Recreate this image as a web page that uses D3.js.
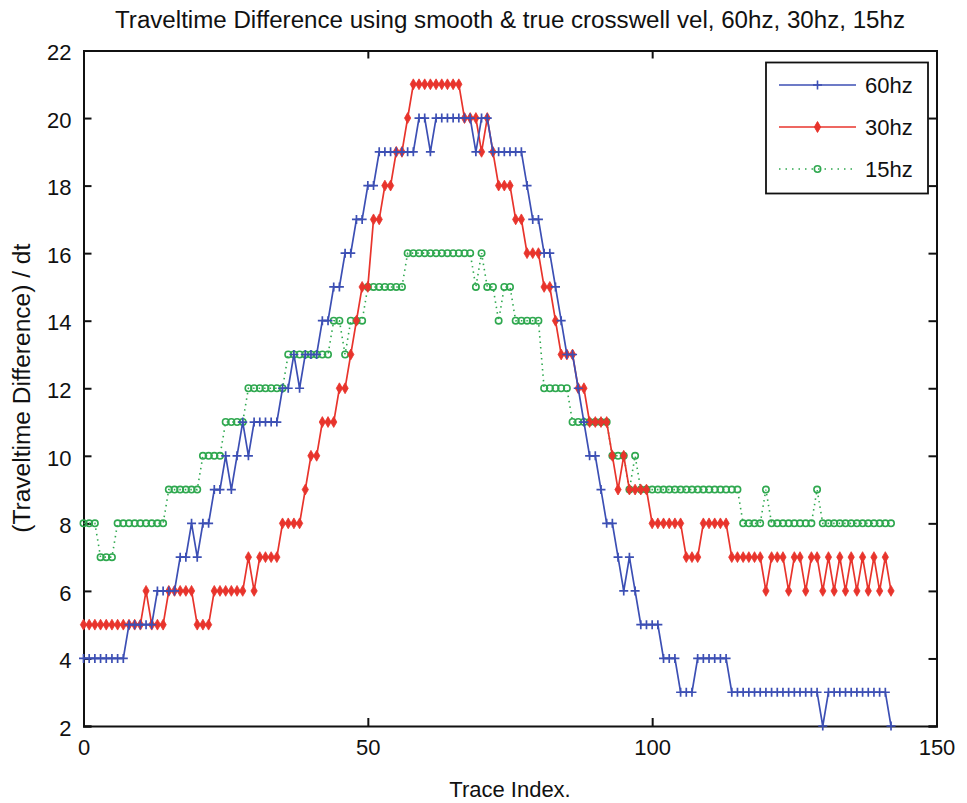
<!DOCTYPE html>
<html><head><meta charset="utf-8">
<script src="https://cdn.jsdelivr.net/npm/d3@7"></script>
<style>body{margin:0;background:#fff}text{font-family:"Liberation Sans",Arial,sans-serif;fill:#111}</style>
</head><body><svg id="c" width="967" height="803"></svg>
<script>
const titleText = "Traveltime Difference using smooth & true crosswell vel, 60hz, 30hz, 15hz";
const xLabel = "Trace Index.";
const yLabel = "(Traveltime Difference) / dt";
const xTicks = [0, 50, 100, 150];
const yTicks = [2, 4, 6, 8, 10, 12, 14, 16, 18, 20, 22];
const seriesNames = ["60hz", "30hz", "15hz"];

const hz60 = [4,4,4,4,4,4,4,4, 5,5,5,5,5, 6,6,6,6, 7,7, 8, 7, 8,8, 9,9, 10, 9, 10, 11, 10,
  11,11,11,11,11, 12,12, 13, 12, 13,13,13, 14,14, 15,15, 16,16, 17,17, 18,18,
  19,19,19,19,19,19,19, 20,20, 19, 20,20,20,20,20,20,20, 19, 20,20,
  19,19,19,19,19,19, 18, 17,17, 16,16, 15, 14, 13,13, 12, 11, 10,10, 9, 8,8, 7, 6, 7, 6,
  5,5,5,5, 4,4,4, 3,3,3, 4,4,4,4,4,4,
  3,3,3,3,3,3,3,3,3,3,3,3,3,3,3,3, 2, 3,3,3,3,3,3,3,3,3,3,3, 2];

const hz30 = [5,5,5,5,5,5,5,5,5,5,5, 6, 5,5,5, 6,6,6,6,6, 5,5,5, 6,6,6,6,6,6, 7, 6,
  7,7,7,7, 8,8,8,8, 9, 10,10, 11,11,11, 12,12, 13, 14, 15,15, 17,17, 18,18, 19,19, 20,
  21,21,21,21,21,21,21,21,21, 20,20,20, 19, 20, 19, 18,18,18, 17,17, 16,16,16, 15,15, 14,
  13,13,13, 12,12, 11,11,11,11, 10, 9, 10, 9,9,9,9, 8,8,8,8,8,8, 7,7,7, 8,8,8,8,8,
  7,7,7,7,7,7, 6,7,7,7,6,7,7,6,7,7,6,7,6,7,6,7,6,7,6,7,6,7,6];

const hz15 = [8,8,8, 7,7,7, 8,8,8,8,8,8,8,8,8, 9,9,9,9,9,9, 10,10,10,10, 11,11,11,11,
  12,12,12,12,12,12,12, 13,13,13,13,13,13,13,13, 14,14, 13, 14,14,14,
  15,15,15,15,15,15,15, 16,16,16,16,16,16,16,16,16,16,16,16, 15, 16, 15,15, 14, 15,15,
  14,14,14,14,14, 12,12,12,12,12, 11,11,11,11,11,11,11, 10,10,10, 9, 10,
  9,9,9,9,9,9,9,9,9,9,9,9,9,9,9,9,9,9, 8,8,8,8, 9, 8,8,8,8,8,8,8,8, 9,
  8,8,8,8,8,8,8,8,8,8,8,8,8];

const traceIdx = hz60.map((_, i) => i);

const colors = {blue: "#3c4fb4", red: "#e8342c", green: "#2fa84f"};

const svg = d3.select("#c");
const L = 83.5, R = 936.5, T = 50.5, B = 726;
const x = d3.scaleLinear().domain([0, 150]).range([L, R]);
const y = d3.scaleLinear().domain([2, 22]).range([B, T]);

svg.append("rect").attr("width", 967).attr("height", 803).attr("fill", "#fff");

// axes (ticks inside, all four sides)
const fs = "22px";
const gx = svg.append("g").attr("transform", `translate(0,${B})`)
  .call(d3.axisBottom(x).tickValues(xTicks).tickSize(-8).tickPadding(12).tickFormat(d3.format("d")));
const gxt = svg.append("g").attr("transform", `translate(0,${T})`)
  .call(d3.axisTop(x).tickValues(xTicks).tickSize(-8).tickFormat(""));
const gy = svg.append("g").attr("transform", `translate(${L},0)`)
  .call(d3.axisLeft(y).tickValues(yTicks).tickSize(-8).tickPadding(12).tickFormat(d3.format("d")));
const gyr = svg.append("g").attr("transform", `translate(${R},0)`)
  .call(d3.axisRight(y).tickValues(yTicks).tickSize(-8).tickFormat(""));
[gx, gxt, gy, gyr].forEach(g => {
  g.select(".domain").attr("stroke", "#111").attr("stroke-width", 2);
  g.selectAll(".tick line").attr("stroke", "#111").attr("stroke-width", 2);
  g.selectAll("text").style("font-size", fs).attr("fill", "#111").style("font-family", '"Liberation Sans",Arial,sans-serif');
});
gx.selectAll(".tick text").attr("dy", "0.75em");
gy.selectAll(".tick text").attr("dy", "0.42em");

// series
const pts = arr => arr.map((v, i) => [traceIdx[i], v]);
const line = d3.line().x(d => x(d[0])).y(d => y(d[1]));
const plot = svg.append("g");

// green 15hz dotted with open circles
plot.append("path").datum(pts(hz15)).attr("d", line).attr("fill", "none")
  .attr("stroke", colors.green).attr("stroke-width", 1.6).attr("stroke-dasharray", "1.5,4");
plot.append("g").selectAll("circle").data(pts(hz15)).join("circle")
  .attr("cx", d => x(d[0])).attr("cy", d => y(d[1])).attr("r", 3.2)
  .attr("fill", "none").attr("stroke", colors.green).attr("stroke-width", 1.6);

// red 30hz solid with filled diamonds
plot.append("path").datum(pts(hz30)).attr("d", line).attr("fill", "none")
  .attr("stroke", colors.red).attr("stroke-width", 1.7);
const dia = d3.symbol().type(d3.symbolDiamond).size(34);
plot.append("g").selectAll("path").data(pts(hz30)).join("path")
  .attr("transform", d => `translate(${x(d[0])},${y(d[1])})`).attr("d", dia)
  .attr("fill", colors.red).attr("stroke", colors.red).attr("stroke-width", 0.8);

// blue 60hz solid with plus markers
plot.append("path").datum(pts(hz60)).attr("d", line).attr("fill", "none")
  .attr("stroke", colors.blue).attr("stroke-width", 1.7);
plot.append("g").selectAll("path").data(pts(hz60)).join("path")
  .attr("d", d => { const cx = x(d[0]), cy = y(d[1]), s = 4.5; return `M${cx - s},${cy}H${cx + s}M${cx},${cy - s}V${cy + s}`; })
  .attr("stroke", colors.blue).attr("stroke-width", 1.7).attr("fill", "none");

// titles
svg.append("text").attr("x", (L + R) / 2).attr("y", 28).attr("text-anchor", "middle")
  .style("font-size", "23px").attr("textLength", 790).attr("lengthAdjust", "spacingAndGlyphs").text(titleText);
svg.append("text").attr("x", (L + R) / 2).attr("y", 797).attr("text-anchor", "middle")
  .style("font-size", "22px").text(xLabel);
svg.append("text").attr("transform", `translate(30,${(T + B) / 2}) rotate(-90)`).attr("text-anchor", "middle")
  .style("font-size", "23px").attr("textLength", 289).attr("lengthAdjust", "spacingAndGlyphs").text(yLabel);

// legend
const lg = svg.append("g");
lg.append("rect").attr("x", 766).attr("y", 62.5).attr("width", 162).attr("height", 131)
  .attr("fill", "#fff").attr("stroke", "#111").attr("stroke-width", 1.8);
const rows = [85, 127, 169];
const lx0 = 779, lx1 = 856, lm = 817.5;
// 60hz
lg.append("line").attr("x1", lx0).attr("x2", lx1).attr("y1", rows[0]).attr("y2", rows[0]).attr("stroke", colors.blue).attr("stroke-width", 1.6);
lg.append("path").attr("d", `M${lm - 4.5},${rows[0]}H${lm + 4.5}M${lm},${rows[0] - 4.5}V${rows[0] + 4.5}`).attr("stroke", colors.blue).attr("stroke-width", 1.6);
// 30hz
lg.append("line").attr("x1", lx0).attr("x2", lx1).attr("y1", rows[1]).attr("y2", rows[1]).attr("stroke", colors.red).attr("stroke-width", 1.6);
lg.append("path").attr("transform", `translate(${lm},${rows[1]})`).attr("d", dia).attr("fill", colors.red).attr("stroke", colors.red);
// 15hz
lg.append("line").attr("x1", lx0).attr("x2", lx1).attr("y1", rows[2]).attr("y2", rows[2]).attr("stroke", colors.green).attr("stroke-width", 1.6).attr("stroke-dasharray", "1.5,5");
lg.append("circle").attr("cx", lm).attr("cy", rows[2]).attr("r", 3.2).attr("fill", "none").attr("stroke", colors.green).attr("stroke-width", 1.6);
seriesNames.forEach((n, i) => {
  lg.append("text").attr("x", 865).attr("y", rows[i]).attr("dy", "0.36em").style("font-size", "22px").text(n);
});
</script></body></html>
